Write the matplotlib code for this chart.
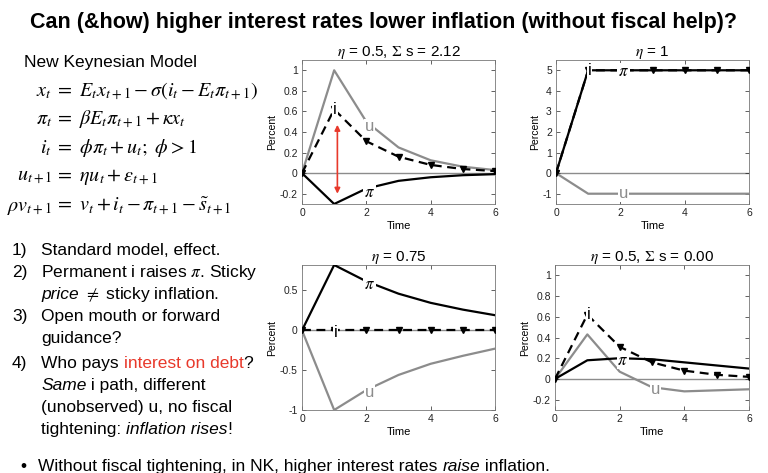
import numpy as np
import matplotlib
matplotlib.use("Agg")
import matplotlib.pyplot as plt

plt.rcParams['font.family'] = ['Liberation Sans', 'DejaVu Sans']
plt.rcParams['mathtext.fontset'] = 'stix'
plt.rcParams['axes.unicode_minus'] = False

# ─── DATA ───────────────────────────────────────────────────────────────────
t = [0, 1, 2, 3, 4, 5, 6]

# panel 1: eta = 0.5, sum s = 2.12
p1_u = [0, 1.0, 0.5, 0.25, 0.125, 0.0625, 0.03]
p1_i = [0, 0.62, 0.31, 0.16, 0.08, 0.04, 0.02]
p1_pi = [0, -0.3, -0.15, -0.075, -0.04, -0.02, -0.01]

# panel 2: eta = 1
p2_u = [0, -1, -1, -1, -1, -1, -1]
p2_i = [0, 5, 5, 5, 5, 5, 5]
p2_pi = [0, 5, 5, 5, 5, 5, 5]

# panel 3: eta = 0.75
p3_u = [0, -1.0, -0.75, -0.56, -0.42, -0.32, -0.23]
p3_i = [0, 0, 0, 0, 0, 0, 0]
p3_pi = [0, 0.82, 0.615, 0.46, 0.345, 0.26, 0.19]

# panel 4: eta = 0.5, sum s = 0.00
p4_u = [0, 0.43, 0.07, -0.08, -0.12, -0.11, -0.10]
p4_i = [0, 0.62, 0.31, 0.16, 0.08, 0.04, 0.02]
p4_pi = [0, 0.18, 0.20, 0.19, 0.16, 0.13, 0.10]

GRAY = '#8c8c8c'
W, H = 768, 473

fig = plt.figure(figsize=(7.68, 4.73), dpi=100)
renderer = fig.canvas.get_renderer()


def fx(px):
    return px / W


def fy(py):
    return 1 - py / H


def text_w(s, **kw):
    # width in pixels, robust to leading/trailing spaces
    a = fig.text(0, 0, '|' + s + '|', **kw)
    b = fig.text(0, 0, '||', **kw)
    w = a.get_window_extent(renderer).width - b.get_window_extent(renderer).width
    a.remove()
    b.remove()
    return w


def rich(x, y, parts, size=12.5):
    # parts: list of (string, style dict)
    for s, st in parts:
        kw = dict(fontsize=size, va='baseline', ha='left')
        kw.update(st)
        fig.text(fx(x), fy(y), s, **kw)
        x += text_w(s, **kw)


# ─── TITLE + LEFT TEXT ───────────────────────────────────────────────────────
fig.text(0.5, fy(28), 'Can (&how) higher interest rates lower inflation (without fiscal help)?',
         fontsize=15.5, fontweight='bold', ha='center', va='baseline')

fig.text(fx(24), fy(67), 'New Keynesian Model', fontsize=12.5, va='baseline')

eq_lhs = [r'$x_t$', r'$\pi_t$', r'$i_t$', r'$u_{t+1}$', r'$\rho v_{t+1}$']
eq_rhs = [r'$=\ E_t x_{t+1}-\sigma(i_t-E_t\pi_{t+1})$',
          r'$=\ \beta E_t\pi_{t+1}+\kappa x_t$',
          r'$=\ \phi\pi_t+u_t;\ \phi>1$',
          r'$=\ \eta u_t+\varepsilon_{t+1}$',
          r'$=\ v_t+i_t-\pi_{t+1}-\tilde{s}_{t+1}$']
eq_base = [96, 124, 153, 181, 211]
for lhs, rhs, yb in zip(eq_lhs, eq_rhs, eq_base):
    fig.text(fx(52), fy(yb), lhs, fontsize=14.5, ha='right', va='baseline')
    fig.text(fx(55), fy(yb), rhs, fontsize=14.5, ha='left', va='baseline')

it = {'style': 'italic'}
red = {'color': '#e8392b'}
nums = [('1)', 255), ('2)', 277), ('3)', 321), ('4)', 368)]
for n, yb in nums:
    fig.text(fx(12), fy(yb), n, fontsize=12.5, va='baseline')

tx = 41
rich(tx, 255, [('Standard model, effect.', {})])
rich(tx, 277, [(r'Permanent i raises $\pi$. Sticky', {})])
rich(tx, 299, [('price', it), (r' $\neq$ sticky inflation.', {})])
rich(tx, 321, [('Open mouth or forward', {})])
rich(tx, 343, [('guidance?', {})])
rich(tx, 368, [('Who pays ', {}), ('interest on debt', red), ('?', {})])
rich(tx, 390, [('Same', it), (' i path, different', {})])
rich(tx, 412, [('(unobserved) u, no fiscal', {})])
rich(tx, 434, [('tightening: ', {}), ('inflation rises', it), ('!', {})])

fig.text(fx(20), fy(471), '\u2022', fontsize=12.5, va='baseline')
rich(38, 471, [('Without fiscal tightening, in NK, higher interest rates ', {}),
               ('raise', it), (' inflation.', {})])

# ─── PANELS ──────────────────────────────────────────────────────────────────
panels = [
    dict(box=(302, 60, 495, 204), u=p1_u, i=p1_i, pi=p1_pi, ylim=(-0.3, 1.1),
         yticks=[-0.2, 0, 0.2, 0.4, 0.6, 0.8, 1],
         title=r'$\eta$ = 0.5, $\Sigma$ s = 2.12',
         lab_i=(1.02, 0.62), lab_u=(2.1, 0.45), lab_pi=(2.1, -0.19)),
    dict(box=(556, 60, 749, 204), u=p2_u, i=p2_i, pi=p2_pi, ylim=(-1.5, 5.5),
         yticks=[-1, 0, 1, 2, 3, 4, 5], title=r'$\eta$ = 1',
         lab_i=(1.05, 5), lab_u=(2.1, -1), lab_pi=(2.1, 4.95)),
    dict(box=(302, 265, 495, 410), u=p3_u, i=p3_i, pi=p3_pi, ylim=(-1, 0.82),
         yticks=[-1, -0.5, 0, 0.5], title=r'$\eta$ = 0.75',
         lab_i=(1.05, -0.03), lab_u=(2.1, -0.78), lab_pi=(2.1, 0.58)),
    dict(box=(555, 265, 749, 410), u=p4_u, i=p4_i, pi=p4_pi, ylim=(-0.3, 1.1),
         yticks=[-0.2, 0, 0.2, 0.4, 0.6, 0.8, 1],
         title=r'$\eta$ = 0.5, $\Sigma$ s = 0.00',
         lab_i=(1.05, 0.62), lab_u=(3.1, -0.1), lab_pi=(2.1, 0.18)),
]

for k, p in enumerate(panels):
    x0, y0, x1, y1 = p['box']
    ax = fig.add_axes([fx(x0), fy(y1), (x1 - x0) / W, (y1 - y0) / H])
    ax.axhline(0, color=GRAY, lw=1.0, zorder=1)
    ax.plot(t, p['u'], color=GRAY, lw=1.6, zorder=2)
    ax.plot(t, p['pi'], color='black', lw=1.6, zorder=3)
    ax.plot(t, p['i'], color='black', lw=1.6, ls=(0, (4, 2.5)), marker='v',
            markersize=5, zorder=4)
    box = dict(facecolor='white', edgecolor='none', pad=0.6)
    ax.text(*p['lab_i'], 'i', fontsize=12, ha='center', va='center', bbox=box, zorder=5)
    ax.text(*p['lab_u'], 'u', fontsize=12, color=GRAY, ha='center', va='center',
            bbox=box, zorder=5)
    ax.text(*p['lab_pi'], r'$\pi$', fontsize=12, ha='center', va='center', bbox=box, zorder=5)
    ax.set_xlim(0, 6)
    ax.set_ylim(*p['ylim'])
    ax.set_xticks([0, 2, 4, 6])
    ax.set_yticks(p['yticks'])
    ax.set_yticklabels([f'{v:g}' for v in p['yticks']])
    ax.tick_params(direction='in', top=True, right=True, length=3, width=0.5,
                   labelsize=7.5, colors='#222222', pad=3)
    for sp in ax.spines.values():
        sp.set_linewidth(0.6)
        sp.set_color('#777777')
    ax.set_title(p['title'], fontsize=11, pad=3)
    ax.set_ylabel('Percent', fontsize=7.5, labelpad=2)
    ax.set_xlabel('Time', fontsize=8, labelpad=2)
    if k == 0:
        ax.annotate('', xy=(1.1, -0.2), xytext=(1.1, 0.47),
                    arrowprops=dict(arrowstyle='<|-|>', color='#e8392b', lw=1.2,
                                    mutation_scale=8, shrinkA=0, shrinkB=0),
                    zorder=6)

fig.savefig('out.png', dpi=100)
